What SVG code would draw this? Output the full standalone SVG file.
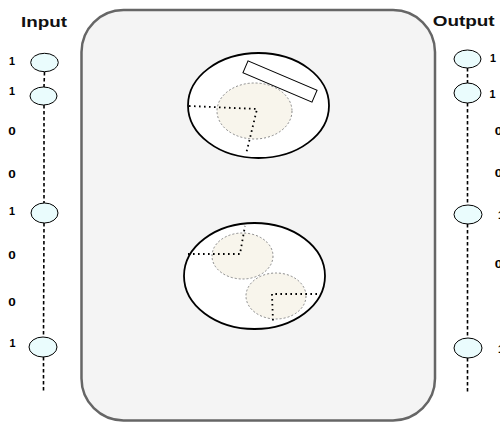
<svg xmlns="http://www.w3.org/2000/svg" width="500" height="423" viewBox="0 0 500 423">
<style>
.title{font-family:"Liberation Sans",Arial,sans-serif;font-weight:bold;font-size:14px;fill:#111}
.bit{font-family:"Liberation Sans",Arial,sans-serif;font-weight:bold;font-size:10px;fill:#000;text-anchor:middle}
.node{fill:#eafcfd;stroke:#000;stroke-width:1}
.link{stroke:#000;stroke-width:1.6;stroke-dasharray:3.5 2.5;fill:none}
.cell{fill:#fff;stroke:#000;stroke-width:1.8}
.core{fill:#f8f5ec;stroke:#888;stroke-width:1;stroke-dasharray:2 2}
.dots{stroke:#000;stroke-width:1.8;stroke-dasharray:1.6 3.4;fill:none}
</style>
<rect width="500" height="423" fill="#fff"/>
<g id="processor">
<rect x="81.5" y="10" width="353.5" height="410.5" rx="42" ry="42" fill="#f4f4f4" stroke="#666" stroke-width="2.5"/>
</g>
<g id="connectors">
<line class="link" x1="44.5" y1="72" x2="44" y2="87"/>
<line class="link" x1="44" y1="105" x2="44" y2="203"/>
<line class="link" x1="44" y1="223" x2="43.5" y2="337"/>
<line class="link" x1="43.5" y1="357" x2="43.5" y2="393"/>
<line class="link" x1="467.5" y1="68" x2="467.5" y2="83"/>
<line class="link" x1="467.5" y1="103" x2="467.5" y2="205"/>
<line class="link" x1="467.5" y1="224" x2="467.5" y2="338"/>
<line class="link" x1="467.5" y1="358" x2="467.5" y2="392"/>
</g>
<g id="input">
<text class="title" x="21" y="27.3" textLength="46" lengthAdjust="spacingAndGlyphs">Input</text>
<g id="in-1"><ellipse class="node" cx="44.5" cy="62.5" rx="13.8" ry="9.2"/><text class="bit" x="12" y="65" textLength="6" lengthAdjust="spacingAndGlyphs">1</text></g>
<g id="in-2"><ellipse class="node" cx="43.5" cy="96" rx="13.5" ry="9"/><text class="bit" x="12" y="95" textLength="6" lengthAdjust="spacingAndGlyphs">1</text></g>
<g id="in-3"><text class="bit" x="12" y="135" textLength="7.5" lengthAdjust="spacingAndGlyphs">0</text></g>
<g id="in-4"><text class="bit" x="12" y="178.3" textLength="7.5" lengthAdjust="spacingAndGlyphs">0</text></g>
<g id="in-5"><ellipse class="node" cx="44.5" cy="213" rx="13.5" ry="10"/><text class="bit" x="12" y="215" textLength="6" lengthAdjust="spacingAndGlyphs">1</text></g>
<g id="in-6"><text class="bit" x="12" y="259.3" textLength="7.5" lengthAdjust="spacingAndGlyphs">0</text></g>
<g id="in-7"><text class="bit" x="12" y="306" textLength="7.5" lengthAdjust="spacingAndGlyphs">0</text></g>
<g id="in-8"><ellipse class="node" cx="43" cy="347" rx="14" ry="10"/><text class="bit" x="12.5" y="346.7" textLength="6" lengthAdjust="spacingAndGlyphs">1</text></g>
</g>
<g id="output">
<text class="title" x="432.7" y="26" textLength="62" lengthAdjust="spacingAndGlyphs">Output</text>
<g id="out-1"><ellipse class="node" cx="467.5" cy="59" rx="13.5" ry="9"/><text class="bit" x="493" y="62" textLength="6" lengthAdjust="spacingAndGlyphs">1</text></g>
<g id="out-2"><ellipse class="node" cx="467.5" cy="93" rx="13.5" ry="10"/><text class="bit" x="492.5" y="98" textLength="6" lengthAdjust="spacingAndGlyphs">1</text></g>
<g id="out-3"><text class="bit" x="498.5" y="135" textLength="7.5" lengthAdjust="spacingAndGlyphs">0</text></g>
<g id="out-4"><text class="bit" x="498.5" y="177" textLength="7.5" lengthAdjust="spacingAndGlyphs">0</text></g>
<g id="out-5"><ellipse class="node" cx="468" cy="214.5" rx="14" ry="9.5"/><text class="bit" x="501" y="218.5" textLength="6" lengthAdjust="spacingAndGlyphs">1</text></g>
<g id="out-6"><text class="bit" x="498.5" y="268" textLength="7.5" lengthAdjust="spacingAndGlyphs">0</text></g>
<g id="out-8"><ellipse class="node" cx="468" cy="348" rx="14" ry="10"/><text class="bit" x="501" y="352.5" textLength="6" lengthAdjust="spacingAndGlyphs">1</text></g>
</g>
<g id="cell-top">
<ellipse class="cell" cx="258.5" cy="105.5" rx="70.5" ry="52.5"/>
<ellipse class="core" cx="254.5" cy="111" rx="37.5" ry="28"/>
<rect x="-37.5" y="-6.5" width="75" height="13" fill="#fff" stroke="#000" stroke-width="1" transform="translate(280 81.5) rotate(23)"/>
<polyline class="dots" points="189,106 257,109 250,138 246,154"/>
</g>
<g id="cell-bottom">
<ellipse class="cell" cx="254.5" cy="276" rx="70.5" ry="53"/>
<ellipse class="core" cx="242.5" cy="256" rx="30.5" ry="23"/>
<ellipse class="core" cx="276" cy="296" rx="30" ry="23"/>
<polyline class="dots" points="188,254 240,254 245,226"/>
<polyline class="dots" points="317,294 272,294 273,322"/>
</g>
</svg>
